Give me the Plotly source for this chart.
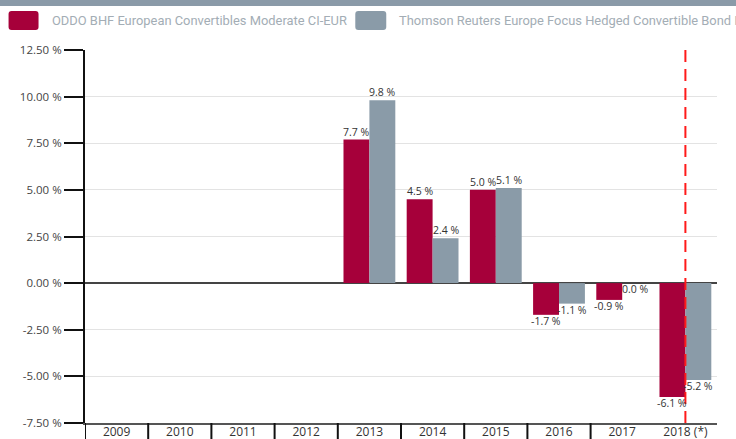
import plotly.graph_objects as go

categories = ["2009", "2010", "2011", "2012", "2013", "2014", "2015", "2016", "2017", "2018 (*)"]
fund_name = "ODDO BHF European Convertibles Moderate CI-EUR"
bench_name = "Thomson Reuters Europe Focus Hedged Convertible Bond Index"
fund_values = [None, None, None, None, 7.7, 4.5, 5.0, -1.7, -0.9, -6.1]
bench_values = [None, None, None, None, 9.8, 2.4, 5.1, -1.1, 0.0, -5.2]
y_ticks = [-7.5, -5.0, -2.5, 0.0, 2.5, 5.0, 7.5, 10.0, 12.5]
y_ticktext = ["%.2f %%" % v for v in y_ticks]

RED = "#a6003a"
GRAY = "#8a9ba8"
W, H = 736, 439
L, R, T, B = 84.5, 19, 50, 16
PW, PH = W - L - R, H - T - B
BARGAP = 0.18

def px(x):
    return (x - L) / PW

def py(y):
    return (T + PH - y) / PH

fig = go.Figure()
for vals, name, color in [(fund_values, fund_name, RED), (bench_values, bench_name, GRAY)]:
    fig.add_trace(go.Bar(
        x=categories, y=vals, name=name, marker_color=color,
        marker_line_width=0, showlegend=False,
    ))

shapes = []

def rounded(x0, y0, x1, y1, r, color):
    rx = r / PW
    ry = r / PH
    a, b, c, d = px(x0), py(y1), px(x1), py(y0)
    if r == 0:
        path = f"M {a},{b} L {c},{b} L {c},{d} L {a},{d} Z"
    else:
        path = (f"M {a+rx},{b} L {c-rx},{b} Q {c},{b} {c},{b+ry} "
                f"L {c},{d-ry} Q {c},{d} {c-rx},{d} L {a+rx},{d} Q {a},{d} {a},{d-ry} "
                f"L {a},{b+ry} Q {a},{b} {a+rx},{b} Z")
    return dict(type="path", xref="paper", yref="paper", path=path,
                fillcolor=color, line_width=0, layer="above")

# top band
shapes.append(rounded(-2, -2, W + 2, 6, 0, "#8a9aa8"))
shapes.append(rounded(8, 11, 38, 30, 3, RED))
shapes.append(rounded(355, 11, 386, 30, 3, GRAY))

# x boundary ticks
for i in range(len(categories) - 1):
    shapes.append(dict(type="line", xref="x", yref="paper",
                       x0=i - 0.5, x1=i - 0.5, y0=0, y1=py(H + 2),
                       line=dict(color="#111", width=2), layer="above"))

# dashed line at last category
last = len(categories) - 1
shapes.append(dict(type="line", xref="x", yref="paper",
                   x0=last, x1=last, y0=0, y1=1,
                   line=dict(color="#ff1a1a", width=2, dash="12px,7px"), layer="above"))

annotations = [
    dict(text=fund_name, xref="paper", yref="paper", x=px(49), y=py(20.5),
         xanchor="left", yanchor="middle", showarrow=False,
         font=dict(family="Roboto", size=12.9, color="#a3adb5")),
    dict(text=bench_name, xref="paper", yref="paper", x=px(397), y=py(20.5),
         xanchor="left", yanchor="middle", showarrow=False,
         font=dict(family="Roboto", size=12.9, color="#a3adb5")),
]

# data labels
bar_w = PW / len(categories) * (1 - BARGAP) / 2
for vals, sign in [(fund_values, -1), (bench_values, 1)]:
    for i, v in enumerate(vals):
        if v is None:
            continue
        annotations.append(dict(
            text="%.1f %%" % v, x=i, y=v, xref="x", yref="y",
            xshift=sign * bar_w / 2, yshift=8 if v > 0 else -6,
            xanchor="center", yanchor="middle", showarrow=False,
            font=dict(family="Open Sans", size=10.5, color="#333"),
        ))

fig.update_layout(
    width=W, height=H,
    margin=dict(l=L, r=R, t=T, b=B, pad=0, autoexpand=False),
    paper_bgcolor="white", plot_bgcolor="white",
    barmode="group", bargap=BARGAP, bargroupgap=0,
    shapes=shapes, annotations=annotations,
    font=dict(family="Open Sans", color="#444"),
    showlegend=False,
)
fig.update_xaxes(
    type="category", categoryorder="array", categoryarray=categories,
    range=[-0.5, len(categories) - 0.5], automargin=False,
    showline=True, linecolor="#555", linewidth=2,
    ticks="", showgrid=False, tickfont=dict(size=12, color="#333"),
    ticklabelstandoff=-3,
    fixedrange=True,
)
fig.update_yaxes(
    range=[-7.5, 12.5], tickvals=y_ticks, ticktext=y_ticktext, automargin=False,
    showline=True, linecolor="#111", linewidth=2,
    ticks="outside", ticklen=19, tickwidth=2, tickcolor="#111",
    showgrid=True, gridcolor="#e3e3e3", gridwidth=1,
    zeroline=True, zerolinecolor="#444", zerolinewidth=1.5,
    tickfont=dict(size=11.5, color="#444"),
)

fig.write_html("out.html")
